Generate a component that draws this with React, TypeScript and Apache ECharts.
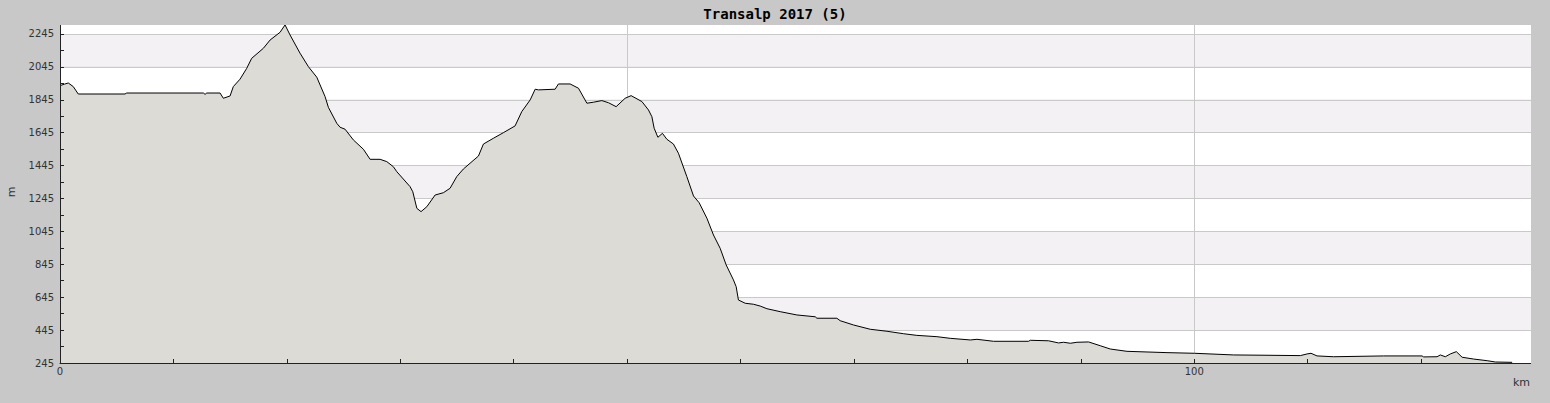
import React, { useEffect, useRef } from "react";
import * as echarts from "echarts";

const TITLE = "Transalp 2017 (5)";
const BASE_M = 245; // lowest axis value (m)
const Y_TICK_STEP = 100;
const Y_LABEL_STEP = 200;
const X_TICK_STEP = 10;
const X_LABELS = [0, 100];
const X_GRID_KM = 50;

const distKm = [
  0.0, 0.4, 0.73, 1.17, 1.61, 5.73, 5.88, 12.64, 12.79, 12.94, 14.11, 14.4, 14.99, 15.28, 15.87, 16.46,
  16.9, 17.93, 18.52, 19.4, 19.84, 20.28, 21.16, 21.9, 22.64, 23.37, 23.66, 24.4, 24.69, 25.13, 25.86,
  26.75, 27.34, 28.22, 28.81, 29.39, 29.69, 30.86, 31.1, 31.46, 31.83, 32.34, 33.07, 33.8, 34.39, 34.98,
  35.56, 36.89, 37.33, 38.21, 39.09, 40.12, 40.71, 41.45, 41.89, 42.18, 43.65, 43.94, 44.97, 45.71,
  46.45, 47.03, 47.77, 48.35, 49.03, 49.82, 50.35, 51.3, 51.88, 52.18, 52.38, 52.71, 53.11, 53.5, 54.08,
  54.52, 55.26, 55.85, 56.35, 57.03, 57.61, 58.2, 58.73, 59.37, 59.61, 59.81, 60.41, 61.14, 61.73, 62.32,
  63.49, 64.96, 66.58, 66.73, 68.49, 68.78, 69.96, 71.43, 72.9, 74.36, 75.54, 77.31, 78.48, 80.25, 80.84,
  82.3, 85.39, 85.54, 87.15, 88.03, 88.48, 89.07, 89.65, 90.68, 91.71, 92.59, 94.06, 97.59, 100.03,
  103.47, 109.35, 109.94, 110.29, 110.82, 112.28, 116.69, 120.08, 120.22, 121.4, 121.69, 122.13, 122.57,
  123.1, 123.61, 124.63, 125.82, 126.54, 128.02,
];

const elevM = [
  1931, 1940, 1947, 1925, 1880, 1880, 1886, 1886, 1878, 1886, 1886, 1854, 1868, 1925, 1970, 2036,
  2097, 2158, 2208, 2255, 2300, 2239, 2128, 2046, 1982, 1864, 1799, 1702, 1678, 1666, 1601,
  1544, 1483, 1483, 1469, 1438, 1408, 1317, 1286, 1185, 1165, 1195, 1266, 1280, 1307, 1378,
  1424, 1503, 1576, 1611, 1645, 1686, 1773, 1844, 1909, 1905, 1909, 1941, 1941, 1915,
  1824, 1830, 1840, 1827, 1803, 1854, 1870, 1834, 1783, 1742, 1672, 1617, 1641, 1605, 1576,
  1520, 1378, 1260, 1219, 1125, 1023, 942, 841, 750, 709, 628, 608, 602, 591, 575,
  557, 537, 526, 517, 517, 502, 476, 450, 438, 423, 413, 405, 395, 385, 389,
  377, 377, 383, 380, 367, 371, 365, 371, 373, 350, 330, 316, 308, 304,
  294, 290, 300, 304, 288, 283, 288, 288, 282, 283, 294, 283, 300,
  314, 280, 269, 259, 251, 249,
];

export default function App() {
  const ref = useRef<HTMLDivElement>(null);

  useEffect(() => {
    if (!ref.current) return;
    const chart = echarts.init(ref.current, undefined, { renderer: "svg" });
    const data = distKm.map((d, i) => [d, elevM[i] - BASE_M]);
    const labelFont = { fontFamily: "DejaVu Sans", fontSize: 10, color: "#333" };
    const grid = { left: 60, right: 15.4, top: 17.5, bottom: 40 };
    chart.setOption({
      animation: false,
      backgroundColor: "#c8c8c8",
      grid,
      xAxis: [
        {
          type: "value",
          min: 0,
          max: 130,
          interval: X_TICK_STEP,
          axisLine: { show: true, onZero: false, lineStyle: { color: "#222", width: 1 } },
          axisTick: { show: true, inside: true, length: 4, lineStyle: { color: "#222" } },
          axisLabel: {
            ...labelFont,
            margin: 3,
            formatter: (v: number) => (X_LABELS.includes(v) ? String(v) : ""),
          },
          splitLine: { show: false },
          z: 5,
        },
        {
          type: "value",
          min: 0,
          max: 130,
          interval: X_GRID_KM,
          position: "bottom",
          axisLine: { show: false },
          axisTick: { show: false },
          axisLabel: { show: false },
          splitLine: { show: true, lineStyle: { color: "#c9c9c9", width: 1 } },
        },
      ],
      yAxis: [
        {
          type: "value",
          min: 0,
          max: 2100,
          interval: Y_TICK_STEP,
          axisLine: { show: true, onZero: false, lineStyle: { color: "#222", width: 1 } },
          axisTick: { show: true, inside: true, length: 4, lineStyle: { color: "#222" } },
          axisLabel: {
            ...labelFont,
            margin: 6,
            formatter: (v: number) => (v % Y_LABEL_STEP === 0 ? String(v + BASE_M) : ""),
          },
          splitLine: { show: false },
          z: 5,
        },
        {
          type: "value",
          min: 0,
          max: 2100,
          interval: Y_LABEL_STEP,
          axisLine: { show: false },
          axisTick: { show: false },
          axisLabel: { show: false },
          splitLine: { show: true, lineStyle: { color: "#c9c9c9", width: 1 } },
          splitArea: { show: true, areaStyle: { color: ["#ffffff", "#f3f1f4"] } },
        },
      ],
      series: [
        {
          type: "line",
          xAxisIndex: 0,
          yAxisIndex: 0,
          data,
          showSymbol: false,
          symbol: "none",
          lineStyle: { color: "#000", width: 1 },
          areaStyle: { color: "#dcdbd6", opacity: 1 },
          silent: true,
          z: 3,
        },
      ],
      graphic: [
        { type: "rect", z: 100, shape: { x: 0, y: 0, width: 1550, height: 25 }, style: { fill: "#c8c8c8" } },
        { type: "rect", z: 100, shape: { x: 1531, y: 0, width: 19, height: 403 }, style: { fill: "#c8c8c8" } },
        {
          type: "text",
          z: 101,
          x: 775,
          y: 14,
          style: {
            text: TITLE,
            fontFamily: "DejaVu Sans Mono",
            fontSize: 14,
            fontWeight: "bold",
            fill: "#000",
            align: "center",
            verticalAlign: "middle",
          },
        },
        {
          type: "text",
          z: 101,
          x: 1530,
          y: 382,
          style: {
            text: "km",
            fontFamily: "DejaVu Sans",
            fontSize: 11,
            fill: "#333",
            align: "right",
            verticalAlign: "middle",
          },
        },
        {
          type: "text",
          z: 101,
          x: 11,
          y: 192,
          rotation: Math.PI / 2,
          style: {
            text: "m",
            fontFamily: "DejaVu Sans",
            fontSize: 11,
            fill: "#333",
            align: "center",
            verticalAlign: "middle",
          },
        },
      ],
    });
    return () => chart.dispose();
  }, []);

  return (
    <div
      ref={ref}
      style={{ position: "fixed", left: 0, top: 0, width: 1550, height: 403 }}
    />
  );
}
